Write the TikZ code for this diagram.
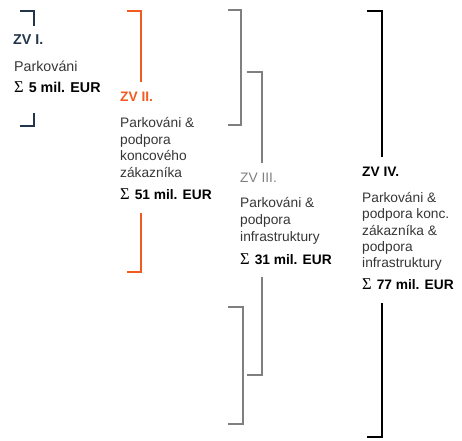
\documentclass[tikz,border=0pt]{standalone}
\usepackage{fontspec}
\setmainfont{Liberation Sans}
\newfontfamily\sigfont{Liberation Serif}
\definecolor{navy}{HTML}{22354A}
\definecolor{orng}{HTML}{F25A1F}
\definecolor{gry}{HTML}{7F7F7F}
\definecolor{bodyc}{HTML}{363636}
\begin{document}
\begin{tikzpicture}[x=1bp,y=-1bp,
  txt/.style={anchor=base west, inner sep=0pt, font=\fontsize{13.8}{16}\selectfont, text=bodyc},
  head/.style={txt, font=\fontsize{13.8}{16}\selectfont\bfseries},
  sumline/.style={txt, font=\fontsize{13.8}{16}\selectfont\bfseries, text=black},
  brk/.style={line width=1.6pt}]
\useasboundingbox (0,0) rectangle (462,441);
\newcommand{\sg}{{\sigfont\mdseries\fontsize{16.5}{16}\selectfont Σ}\hspace{5bp}}
% ZV I
\node[head, text=navy, font=\fontsize{14.3}{16}\selectfont\bfseries] (h1) at (13,45) {ZV I.};
\node[txt, font=\fontsize{14.3}{16}\selectfont] (b1a) at (14,72) {Parkováni};
\node[sumline, font=\fontsize{14.3}{16}\selectfont\bfseries] (s1) at (14,93) {\sg 5 mil. EUR};
\draw[brk, navy] (20,11) -- (34,11) -- (34,26);
\draw[brk, navy] (34,113) -- (34,126) -- (20,126);
% ZV II
\node[head, text=orng] (h2) at (120,102) {ZV II.};
\node[txt] (b2a) at (120,128) {Parkováni \&};
\node[txt] (b2b) at (120,144.5) {podpora};
\node[txt] (b2c) at (120,161) {koncového};
\node[txt] (b2d) at (120,177.5) {zákazníka};
\node[sumline] (s2) at (120,200) {\sg 51 mil. EUR};
\draw[brk, orng] (127,11) -- (141,11) -- (141,82);
\draw[brk, orng] (141,213) -- (141,272) -- (127,272);
% ZV III
\node[txt, text=gry] (h3) at (240,183) {ZV III.};
\node[txt] (b3a) at (240,208) {Parkováni \&};
\node[txt] (b3b) at (240,224.5) {podpora};
\node[txt] (b3c) at (240,241) {infrastruktury};
\node[sumline] (s3) at (240,264) {\sg 31 mil. EUR};
\draw[brk, gry] (228,10) -- (241,10) -- (241,125) -- (228,125);
\draw[brk, gry] (247,72) -- (262,72) -- (262,163);
\draw[brk, gry] (262,277) -- (262,375) -- (247,375);
\draw[brk, gry] (228,307) -- (243,307) -- (243,424) -- (228,424);
% ZV IV
\node[head, text=black] (h4) at (362,177) {ZV IV.};
\node[txt] (b4a) at (362,203) {Parkováni \&};
\node[txt] (b4b) at (362,219) {podpora konc.};
\node[txt] (b4c) at (362,235) {zákazníka \&};
\node[txt] (b4d) at (362,251) {podpora};
\node[txt] (b4e) at (362,267) {infrastruktury};
\node[sumline] (s4) at (362,289) {\sg 77 mil. EUR};
\draw[brk, black] (367,11) -- (382,11) -- (382,157);
\draw[brk, black] (382,303) -- (382,437) -- (367,437);
\end{tikzpicture}
\end{document}
